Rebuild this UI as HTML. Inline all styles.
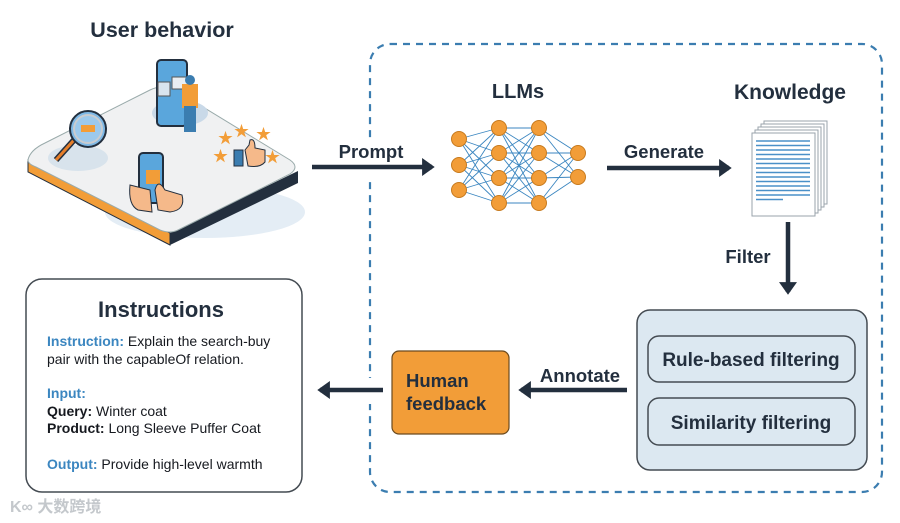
<!DOCTYPE html>
<html><head><meta charset="utf-8"><style>
html,body{margin:0;padding:0;background:#fff;}
svg{display:block;font-family:"Liberation Sans","Noto Sans CJK SC",sans-serif;}
.t{font-weight:bold;fill:#232f3e;}
</style></head><body>
<svg width="900" height="523" viewBox="0 0 900 523" xmlns="http://www.w3.org/2000/svg">
<defs>
<marker id="ah" markerWidth="4" markerHeight="4" refX="2.2" refY="2" orient="auto" markerUnits="strokeWidth">
<path d="M0,0 L2.8,2 L0,4 Z" fill="#232f3e"/></marker>
</defs>
<!-- dashed container -->
<rect x="370" y="44" width="512" height="448" rx="20" fill="none" stroke="#3b7db0" stroke-width="2.2" stroke-dasharray="7,6"/>
<rect x="360" y="138" width="20" height="40" fill="#fff"/>
<rect x="360" y="378" width="20" height="26" fill="#fff"/>

<!-- User behavior -->
<text x="162" y="37" text-anchor="middle" class="t" font-size="21.5">User behavior</text>
<ellipse cx="205" cy="212" rx="100" ry="26" fill="#e4edf5"/>
<path d="M28,160 L28,172 L170,245 L170,233 Z" fill="#f29d38" stroke="#232f3e" stroke-width="1"/>
<path d="M170,233 L170,245 L298,183 L298,171 Z" fill="#232f3e"/>
<path d="M28,160 Q30,150 45,143 L150,90 Q162,84 175,90 L290,160 Q300,167 290,174 L178,230 Q170,234 160,230 L36,167 Q28,164 28,160 Z" fill="#f0f1f2" stroke="#9aa" stroke-width="1"/>
<ellipse cx="180" cy="113" rx="28" ry="13" fill="#c9d9e8"/>
<rect x="157" y="60" width="30" height="66" rx="4" fill="#5aa6dc" stroke="#232f3e" stroke-width="2"/>
<rect x="158" y="82" width="12" height="14" fill="#d9e4ee" stroke="#555"/>
<rect x="172" y="77" width="18" height="12" fill="#e9eef2" stroke="#555"/>
<rect x="182" y="84" width="16" height="24" fill="#f29d38"/>
<rect x="184" y="106" width="12" height="26" fill="#3b7db0"/>
<circle cx="190" cy="80" r="5" fill="#3b7db0"/>
<ellipse cx="78" cy="158" rx="30" ry="13" fill="#d8e3ec"/>
<line x1="56" y1="160" x2="74" y2="140" stroke="#232f3e" stroke-width="6"/>
<line x1="56" y1="160" x2="74" y2="140" stroke="#e57e2a" stroke-width="3"/>
<circle cx="88" cy="129" r="18" fill="#7fb9e6" stroke="#232f3e" stroke-width="2"/>
<circle cx="88" cy="129" r="14" fill="#9cc9ec" stroke="#c9ccd0" stroke-width="2"/>
<rect x="81" y="125" width="14" height="7" fill="#f29d38"/>
<rect x="139" y="153" width="24" height="50" rx="4" fill="#5aa6dc" stroke="#232f3e" stroke-width="2"/>
<rect x="146" y="170" width="14" height="14" fill="#f29d38"/>
<path d="M130,185 Q128,205 138,210 L152,212 L150,190 Z" fill="#f5b98a" stroke="#232f3e"/>
<path d="M155,190 Q158,178 165,190 L182,195 Q186,210 170,212 L158,210 Z" fill="#f5b98a" stroke="#232f3e"/>
<path d="M245,150 L249,145 L250,140 Q255,138 255,148 L265,150 L265,162 Q260,168 248,166 Z" fill="#f5b98a" stroke="#232f3e"/>
<rect x="234" y="150" width="9" height="16" fill="#3b7db0" stroke="#232f3e"/>
<g fill="#f29d38" font-size="15"><text x="213" y="161">★</text><text x="218" y="143">★</text><text x="234" y="136">★</text><text x="256" y="139">★</text><text x="265" y="162">★</text></g>

<!-- Prompt arrow -->
<text x="371" y="158" text-anchor="middle" class="t" font-size="18.5">Prompt</text>
<line x1="312" y1="167" x2="432" y2="167" stroke="#232f3e" stroke-width="4.5" marker-end="url(#ah)"/>

<!-- LLMs -->
<text x="518" y="98" text-anchor="middle" class="t" font-size="20">LLMs</text>
<g stroke="#3b86c0" stroke-width="0.9">
<path d="M459,139 L499,128 M459,139 L499,153 M459,139 L499,178 M459,139 L499,203 M459,165 L499,128 M459,165 L499,153 M459,165 L499,178 M459,165 L499,203 M459,190 L499,128 M459,190 L499,153 M459,190 L499,178 M459,190 L499,203"/>
<path d="M499,128 L539,128 M499,128 L539,153 M499,128 L539,178 M499,128 L539,203 M499,153 L539,128 M499,153 L539,153 M499,153 L539,178 M499,153 L539,203 M499,178 L539,128 M499,178 L539,153 M499,178 L539,178 M499,178 L539,203 M499,203 L539,128 M499,203 L539,153 M499,203 L539,178 M499,203 L539,203"/>
<path d="M539,128 L578,153 M539,128 L578,177 M539,153 L578,153 M539,153 L578,177 M539,178 L578,153 M539,178 L578,177 M539,203 L578,153 M539,203 L578,177"/>
</g>
<g fill="#f29d38" stroke="#c77a1e" stroke-width="1">
<circle cx="459" cy="139" r="7.5"/><circle cx="459" cy="165" r="7.5"/><circle cx="459" cy="190" r="7.5"/>
<circle cx="499" cy="128" r="7.5"/><circle cx="499" cy="153" r="7.5"/><circle cx="499" cy="178" r="7.5"/><circle cx="499" cy="203" r="7.5"/>
<circle cx="539" cy="128" r="7.5"/><circle cx="539" cy="153" r="7.5"/><circle cx="539" cy="178" r="7.5"/><circle cx="539" cy="203" r="7.5"/>
<circle cx="578" cy="153" r="7.5"/><circle cx="578" cy="177" r="7.5"/>
</g>

<!-- Generate -->
<text x="664" y="158" text-anchor="middle" class="t" font-size="18.5">Generate</text>
<line x1="607" y1="168" x2="729" y2="168" stroke="#232f3e" stroke-width="4.5" marker-end="url(#ah)"/>

<!-- Knowledge -->
<text x="790" y="99" text-anchor="middle" class="t" font-size="21">Knowledge</text>
<g fill="#fff" stroke="#9aa3ab" stroke-width="1">
<rect x="764" y="121" width="63" height="83"/><rect x="761" y="124" width="63" height="83"/><rect x="758" y="127" width="63" height="83"/><rect x="755" y="130" width="63" height="83"/>
<rect x="752" y="133" width="63" height="83"/>
</g>
<g stroke="#4a90c8" stroke-width="1.6">
<path d="M756,141H810M756,145.5H810M756,150H810M756,154.5H810M756,159H810M756,163.5H810M756,168H810M756,172.5H810M756,177H810M756,181.5H810M756,186H810M756,190.5H810M756,195H810M756,199.5H783"/>
</g>

<!-- Filter -->
<text x="748" y="263" text-anchor="middle" class="t" font-size="18.5">Filter</text>
<line x1="788" y1="222" x2="788" y2="292" stroke="#232f3e" stroke-width="4.5" marker-end="url(#ah)"/>

<rect x="637" y="310" width="230" height="160" rx="13" fill="#dce8f1" stroke="#444b52" stroke-width="1.5"/>
<rect x="648" y="336" width="207" height="46" rx="11" fill="#dce8f1" stroke="#444b52" stroke-width="1.5"/>
<rect x="648" y="398" width="207" height="47" rx="11" fill="#dce8f1" stroke="#444b52" stroke-width="1.5"/>
<text x="751" y="366" text-anchor="middle" class="t" font-size="19">Rule-based filtering</text>
<text x="751" y="429" text-anchor="middle" class="t" font-size="19">Similarity filtering</text>

<!-- Annotate -->
<text x="580" y="382" text-anchor="middle" class="t" font-size="18.5">Annotate</text>
<line x1="627" y1="390" x2="521" y2="390" stroke="#232f3e" stroke-width="4.5" marker-end="url(#ah)"/>

<rect x="392" y="351" width="117" height="83" rx="7" fill="#f29d38" stroke="#6b4a1e" stroke-width="1.2"/>
<text x="406" y="387" class="t" font-size="18.5">Human</text>
<text x="406" y="410" class="t" font-size="18.5">feedback</text>

<line x1="383" y1="390" x2="320" y2="390" stroke="#232f3e" stroke-width="4.5" marker-end="url(#ah)"/>

<!-- Instructions -->
<rect x="26" y="279" width="276" height="213" rx="16" fill="#fff" stroke="#444b52" stroke-width="1.5"/>
<text x="161" y="317" text-anchor="middle" class="t" font-size="22">Instructions</text>
<g font-size="14" fill="#16191f">
<text x="47" y="346"><tspan fill="#3b86c0" font-weight="bold">Instruction:</tspan> Explain the search-buy</text>
<text x="47" y="364">pair with the capableOf relation.</text>
<text x="47" y="398" fill="#3b86c0" font-weight="bold">Input:</text>
<text x="47" y="416"><tspan font-weight="bold">Query:</tspan> Winter coat</text>
<text x="47" y="433"><tspan font-weight="bold">Product:</tspan> Long Sleeve Puffer Coat</text>
<text x="47" y="469"><tspan fill="#3b86c0" font-weight="bold">Output:</tspan> Provide high-level warmth</text>
</g>
<text x="10" y="512" font-size="16" fill="#c4c8cc" font-weight="bold">K∞ 大数跨境</text>
</svg>
</body></html>
